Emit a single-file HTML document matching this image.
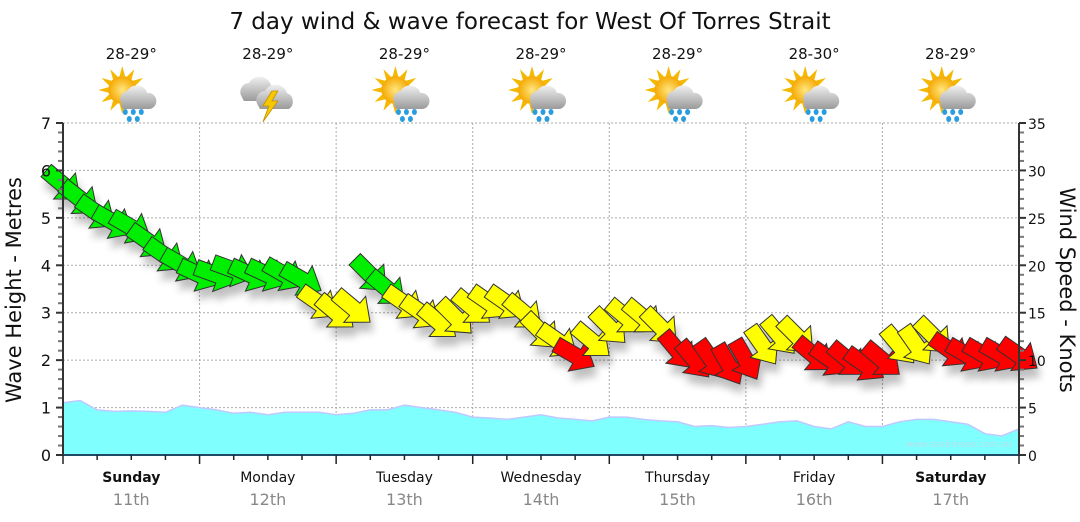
<!DOCTYPE html>
<html><head><meta charset="utf-8"><style>
html,body{margin:0;padding:0;background:#fff;}
svg{display:block;font-family:"DejaVu Sans","Liberation Sans",sans-serif;}
</style></head><body>
<svg id="chart" width="1080" height="522" viewBox="0 0 1080 522" xmlns="http://www.w3.org/2000/svg">
<defs>
<filter id="sh" x="-50%" y="-50%" width="200%" height="200%"><feGaussianBlur in="SourceAlpha" stdDeviation="4"/><feOffset dx="3" dy="9"/><feComponentTransfer><feFuncA type="linear" slope="0.25"/></feComponentTransfer><feMerge><feMergeNode/><feMergeNode in="SourceGraphic"/></feMerge></filter>
<radialGradient id="sun" cx="50%" cy="50%" r="50%"><stop offset="0" stop-color="#ffe680"/><stop offset="1" stop-color="#f5a800"/></radialGradient>
<linearGradient id="cloud" x1="0" y1="0" x2="0" y2="1"><stop offset="0" stop-color="#f0f0f0"/><stop offset="1" stop-color="#9a9a9a"/></linearGradient>
</defs>
<text x="530" y="29" text-anchor="middle" font-size="23" fill="#111">7 day wind &amp; wave forecast for West Of Torres Strait</text>
<g id="grid"></g>
<g id="waves"></g>
<g id="wind" filter="url(#sh)"></g>
<g id="axes"></g>
<g id="days"></g>
<g id="icons"></g>
<text transform="translate(21,290) rotate(-90)" text-anchor="middle" font-size="21" fill="#111">Wave Height - Metres</text>
<text transform="translate(1060,290) rotate(90)" text-anchor="middle" font-size="21" fill="#111">Wind Speed - Knots</text>
<text x="1012" y="447" text-anchor="end" font-size="9" fill="#b8e0ea">www.seabreeze.com.au</text>
</svg>
<script>
const dayNames = ["Sunday","Monday","Tuesday","Wednesday","Thursday","Friday","Saturday"];
const dayDates = ["11th","12th","13th","14th","15th","16th","17th"];
const dayBold = [true,false,false,false,false,false,true];
const dayTemps = ["28-29°","28-29°","28-29°","28-29°","28-29°","28-30°","28-29°"];
const dayIcons = ["rain","storm","rain","rain","rain","rain","rain"];
const waveTicks = [0,1,2,3,4,5,6,7];
const windTicks = [0,5,10,15,20,25,30,35];
// 3-hourly series, 57 points
const waveHeight = [1.1,1.15,0.95,0.92,0.93,0.92,0.9,1.05,1.0,0.95,0.88,0.9,0.85,0.9,0.9,0.9,0.85,0.88,0.95,0.95,1.05,1.0,0.95,0.9,0.8,0.78,0.75,0.8,0.85,0.78,0.75,0.72,0.8,0.8,0.75,0.72,0.7,0.6,0.62,0.58,0.6,0.65,0.7,0.72,0.6,0.55,0.7,0.6,0.6,0.7,0.75,0.75,0.7,0.65,0.45,0.4,0.55];
const windSpeed = [28.5,27,25.5,24.5,24,22.5,21,20,19,19,19.5,19,19,19,18.5,16,15,15.5,19,17.5,16,15,14,14.5,15.5,16,16,15,13,12,10.5,12,13.5,14.5,14.5,13.5,11,10,10,9.5,10,11.5,12.5,12.5,10.5,10,10,9.5,10,11.5,11.5,12.5,11,10.5,10.5,10.5,10.5];
const windDir = [40,38,35,30,30,35,35,30,25,20,20,25,25,30,30,35,40,40,45,40,35,35,40,45,40,35,35,40,45,35,30,40,45,40,40,45,50,50,55,60,60,55,50,45,40,35,40,35,40,50,55,45,35,30,30,30,35];

const NS="http://www.w3.org/2000/svg";
const X0=63, X1=1019, Y0=455, Y1=123;
const xs = i => X0 + (X1-X0)*i/(waveHeight.length-1);
const yWave = v => Y0 - (Y0-Y1)*v/7;
const yWind = v => Y0 - (Y0-Y1)*v/35;
const dayX = d => X0 + (X1-X0)*d/7;
function mk(tag, attrs, parent){const e=document.createElementNS(NS,tag);for(const k in attrs)e.setAttribute(k,attrs[k]);parent.appendChild(e);return e;}
const grid=document.getElementById('grid'), axes=document.getElementById('axes'), days=document.getElementById('days'), icons=document.getElementById('icons');

waveTicks.forEach(t=>{ if(t>0){const l=mk('line',{x1:X0,x2:X1,y1:yWave(t),y2:yWave(t),stroke:'#aaa','stroke-dasharray':'2,2'},grid);

}
 const tx=mk('text',{x:X0-12,y:yWave(t)+6,'text-anchor':'end','font-size':'16',fill:'#111'},axes); tx.textContent=t;


 mk('line',{x1:X0-7,x2:X0,y1:yWave(t),y2:yWave(t),stroke:'#333','stroke-width':2},axes);
 if(t<7) for(let m=1;m<5;m++){const y=yWave(t+m*0.2);mk('line',{x1:X0-5,x2:X0,y1:y,y2:y,stroke:'#777','stroke-width':2},axes);}
});
windTicks.forEach(t=>{const tx=mk('text',{x:X1+9,y:yWind(t)+6,'text-anchor':'start','font-size':'14',fill:'#111'},axes); tx.textContent=t;


 mk('line',{x1:X1,x2:X1+7,y1:yWind(t),y2:yWind(t),stroke:'#333','stroke-width':2},axes);
 if(t<35) for(let m=1;m<5;m++){const y=yWind(t+m);mk('line',{x1:X1,x2:X1+5,y1:y,y2:y,stroke:'#777','stroke-width':2},axes);}
});
for(let d=1;d<7;d++){const l=mk('line',{x1:dayX(d),x2:dayX(d),y1:Y1,y2:Y0,stroke:'#aaa','stroke-dasharray':'2,2'},grid);

}
mk('line',{x1:X0,x2:X0,y1:Y1,y2:Y0,stroke:'#333','stroke-width':2},axes);
mk('line',{x1:X1,x2:X1,y1:Y1,y2:Y0,stroke:'#333','stroke-width':2},axes);
mk('line',{x1:X0,x2:X1,y1:Y0,y2:Y0,stroke:'#1d4a66','stroke-width':2},axes);
for(let q=0;q<=28;q++){const x=X0+(X1-X0)*q/28;mk('line',{x1:x,x2:x,y1:Y0,y2:Y0+(q%4==0?9:5),stroke:'#222','stroke-width':1.5},axes);}

// waves
let p=`M${X0},${Y0}`;waveHeight.forEach((v,i)=>p+=` L${xs(i).toFixed(1)},${yWave(v).toFixed(1)}`);p+=` L${X1},${Y0} Z`;
const wa=mk('path',{d:p,fill:'#80ffff',stroke:'#c0c8ff','stroke-width':1.5},document.getElementById('waves'));



// wind arrows
const windG=document.getElementById('wind');
windSpeed.forEach((v,i)=>{const c=v>=17.5?'#00ee00':(v>=11.5?'#ffff00':'#ff0000');
 const a=mk('polygon',{points:'-22,-8 2,-8 2,-17 22,0 2,17 2,8 -22,8',fill:c,stroke:'#333','stroke-width':1,'stroke-linejoin':'miter',
  transform:`translate(${xs(i).toFixed(1)},${yWind(v).toFixed(1)}) rotate(${windDir[i]})`},windG);
 
 
});

// day labels & icons
dayNames.forEach((n,d)=>{const cx=(dayX(d)+dayX(d+1))/2;
 const t1=mk('text',{x:cx,y:482,'text-anchor':'middle','font-size':'14',fill:'#111','font-weight':dayBold[d]?'bold':'normal'},days);t1.textContent=n;
 
 
 const t2=mk('text',{x:cx,y:505,'text-anchor':'middle','font-size':'16',fill:'#888'},days);t2.textContent=dayDates[d];
 
 
 const t3=mk('text',{x:cx,y:59,'text-anchor':'middle','font-size':'15',fill:'#111'},icons);t3.textContent=dayTemps[d];
 
 
 const g=mk('g',{transform:`translate(${cx},95)`},icons);
 
 
 if(dayIcons[d]=='rain'){
  for(let k=0;k<12;k++){const an=k*30*Math.PI/180;mk('polygon',{points:`${-9+14*Math.cos(an-0.2)},${-5+14*Math.sin(an-0.2)} ${-9+24*Math.cos(an)},${-5+24*Math.sin(an)} ${-9+14*Math.cos(an+0.2)},${-5+14*Math.sin(an+0.2)}`,fill:'#f5b800'},g);}
  mk('circle',{cx:-9,cy:-5,r:14,fill:'url(#sun)'},g);
  mk('path',{d:'M-10,8 a8,8 0 0 1 6,-12 a11,11 0 0 1 20,2 a8,8 0 0 1 2,16 h-26 a6,6 0 0 1 -2,-6z',fill:'url(#cloud)'},g);
  [[-6,17],[2,17],[10,17],[-2,24],[6,24]].forEach(q=>mk('ellipse',{cx:q[0],cy:q[1],rx:2.5,ry:3,fill:'#2a9de0'},g));
 } else {
  mk('path',{d:'M-26,2 a9,9 0 0 1 7,-14 a12,12 0 0 1 22,2 a9,9 0 0 1 2,16 h-29z',fill:'url(#cloud)'},g);
  mk('path',{d:'M-10,10 a9,9 0 0 1 7,-14 a12,12 0 0 1 22,2 a9,9 0 0 1 2,16 h-29z',fill:'url(#cloud)'},g);
  mk('polygon',{points:'4,-4 -5,11 1,11 -5,27 10,6 4,6 10,-4',fill:'#f5c800',stroke:'#c89000','stroke-width':0.8},g);
 }
});
</script>
</body></html>
